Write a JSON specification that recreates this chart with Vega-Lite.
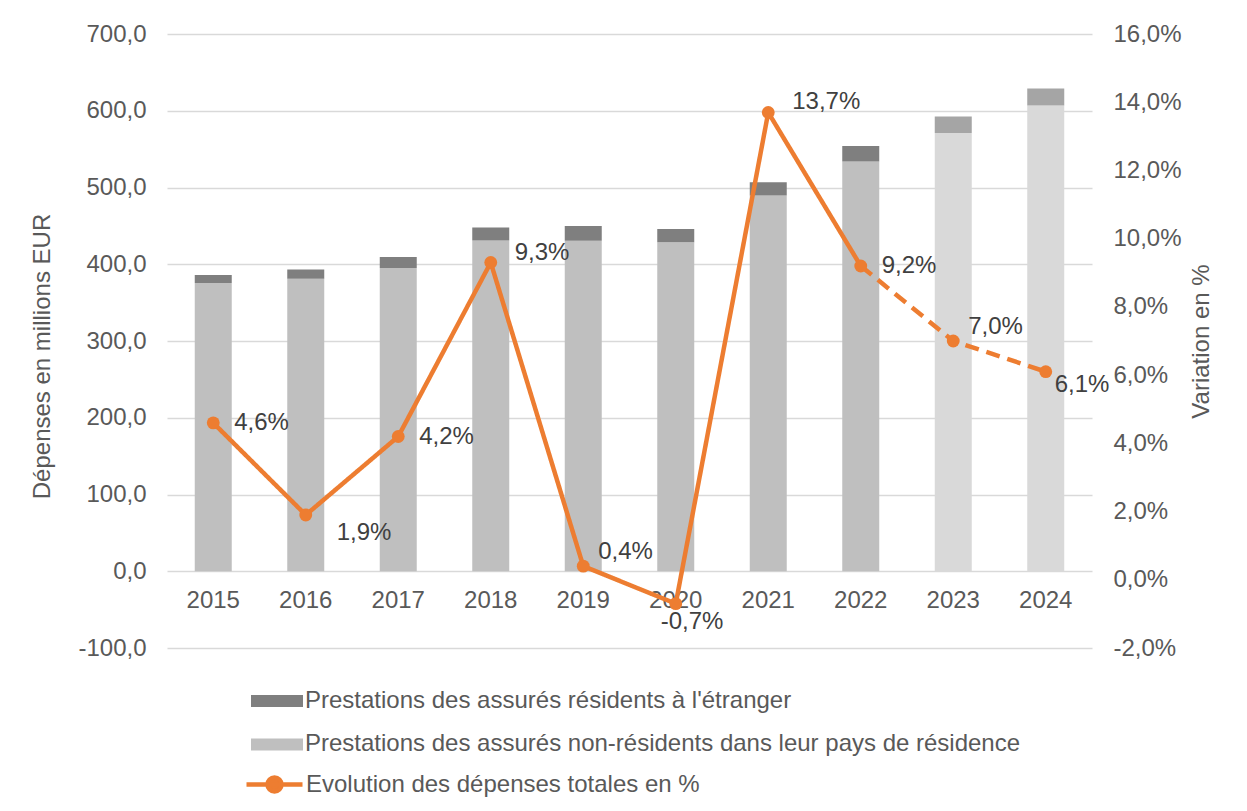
{
  "$schema": "https://vega.github.io/schema/vega-lite/v6.json",
  "width": 925,
  "height": 614,
  "autosize": "none",
  "padding": {"left": 167, "top": 34, "right": 155, "bottom": 163},
  "background": "#ffffff",
  "config": {
    "font": "Liberation Sans",
    "view": {"stroke": null},
    "locale": {"number": {"decimal": ",", "thousands": ".", "grouping": [3], "currency": ["", " €"], "minus": "-"}},
    "axis": {"labelFontSize": 24, "labelColor": "#595959", "titleColor": "#595959", "titleFontSize": 24, "titleFontWeight": "normal", "domain": false, "ticks": false, "tickSize": 0},
    "legend": {"labelFontSize": 24, "labelColor": "#595959", "padding": 0, "title": null, "labelLimit": 900}
  },
  "datasets": {
    "depenses": [
      {"annee": 2015, "serie": "Prestations des assurés non-résidents dans leur pays de résidence", "statut": "observé", "montant": 375.5},
      {"annee": 2015, "serie": "Prestations des assurés résidents à l'étranger", "statut": "observé", "montant": 10.5},
      {"annee": 2016, "serie": "Prestations des assurés non-résidents dans leur pays de résidence", "statut": "observé", "montant": 381},
      {"annee": 2016, "serie": "Prestations des assurés résidents à l'étranger", "statut": "observé", "montant": 12},
      {"annee": 2017, "serie": "Prestations des assurés non-résidents dans leur pays de résidence", "statut": "observé", "montant": 395},
      {"annee": 2017, "serie": "Prestations des assurés résidents à l'étranger", "statut": "observé", "montant": 14.5},
      {"annee": 2018, "serie": "Prestations des assurés non-résidents dans leur pays de résidence", "statut": "observé", "montant": 431},
      {"annee": 2018, "serie": "Prestations des assurés résidents à l'étranger", "statut": "observé", "montant": 17},
      {"annee": 2019, "serie": "Prestations des assurés non-résidents dans leur pays de résidence", "statut": "observé", "montant": 430.5},
      {"annee": 2019, "serie": "Prestations des assurés résidents à l'étranger", "statut": "observé", "montant": 19.2},
      {"annee": 2020, "serie": "Prestations des assurés non-résidents dans leur pays de résidence", "statut": "observé", "montant": 428.8},
      {"annee": 2020, "serie": "Prestations des assurés résidents à l'étranger", "statut": "observé", "montant": 17},
      {"annee": 2021, "serie": "Prestations des assurés non-résidents dans leur pays de résidence", "statut": "observé", "montant": 489.7},
      {"annee": 2021, "serie": "Prestations des assurés résidents à l'étranger", "statut": "observé", "montant": 17.3},
      {"annee": 2022, "serie": "Prestations des assurés non-résidents dans leur pays de résidence", "statut": "observé", "montant": 534},
      {"annee": 2022, "serie": "Prestations des assurés résidents à l'étranger", "statut": "observé", "montant": 20},
      {"annee": 2023, "serie": "Prestations des assurés non-résidents dans leur pays de résidence", "statut": "projection", "montant": 571},
      {"annee": 2023, "serie": "Prestations des assurés résidents à l'étranger", "statut": "projection", "montant": 21.5},
      {"annee": 2024, "serie": "Prestations des assurés non-résidents dans leur pays de résidence", "statut": "projection", "montant": 607},
      {"annee": 2024, "serie": "Prestations des assurés résidents à l'étranger", "statut": "projection", "montant": 22}
    ],
    "variation": [
      {"annee": 2015, "taux": 0.046},
      {"annee": 2016, "taux": 0.019},
      {"annee": 2017, "taux": 0.042},
      {"annee": 2018, "taux": 0.093},
      {"annee": 2019, "taux": 0.004},
      {"annee": 2020, "taux": -0.007},
      {"annee": 2021, "taux": 0.137},
      {"annee": 2022, "taux": 0.092},
      {"annee": 2023, "taux": 0.070},
      {"annee": 2024, "taux": 0.061}
    ],
    "courbe": [
      {"annee": 2015, "taux": 0.046, "segment": "observé"},
      {"annee": 2016, "taux": 0.019, "segment": "observé"},
      {"annee": 2017, "taux": 0.042, "segment": "observé"},
      {"annee": 2018, "taux": 0.093, "segment": "observé"},
      {"annee": 2019, "taux": 0.004, "segment": "observé"},
      {"annee": 2020, "taux": -0.007, "segment": "observé"},
      {"annee": 2021, "taux": 0.137, "segment": "observé"},
      {"annee": 2022, "taux": 0.092, "segment": "observé"},
      {"annee": 2022, "taux": 0.092, "segment": "projection"},
      {"annee": 2023, "taux": 0.070, "segment": "projection"},
      {"annee": 2024, "taux": 0.061, "segment": "projection"}
    ]
  },
  "encoding": {
    "x": {
      "field": "annee",
      "type": "ordinal",
      "scale": {"paddingInner": 0.6, "paddingOuter": 0.3},
      "axis": {"title": null, "offset": -76.7, "labelPadding": 17, "labelAngle": 0, "grid": false}
    }
  },
  "layer": [
    {
      "data": {"name": "depenses"},
      "mark": {"type": "bar"},
      "encoding": {
        "y": {
          "field": "montant",
          "type": "quantitative",
          "stack": "zero",
          "scale": {"domain": [-100, 700], "nice": false, "zero": false},
          "axis": {
            "orient": "left",
            "values": [-100, 0, 100, 200, 300, 400, 500, 600, 700],
            "format": ".1f",
            "grid": true,
            "gridColor": "#d9d9d9",
            "gridWidth": 1.5,
            "labelPadding": 21,
            "title": "Dépenses en millions EUR",
            "titlePadding": 23,
            "titleY": 322
          }
        },
        "color": {
          "field": "serie",
          "type": "nominal",
          "scale": {
            "domain": ["Prestations des assurés résidents à l'étranger", "Prestations des assurés non-résidents dans leur pays de résidence"],
            "range": ["#7f7f7f", "#bfbfbf"]
          },
          "condition": [
            {"test": "datum.statut === 'projection' && indexof(datum.serie, 'étranger') >= 0", "value": "#a5a5a5"},
            {"test": "datum.statut === 'projection'", "value": "#d9d9d9"}
          ],
          "legend": {
            "orient": "none",
            "legendX": 98,
            "legendY": 655,
            "symbolType": "M-2.6,-0.6H2.6V0.6H-2.6Z",
            "symbolSize": 400,
            "symbolStrokeWidth": 0,
            "labelOffset": 16,
            "rowPadding": 19.4
          }
        },
        "order": {"field": "serie", "sort": "ascending"}
      }
    },
    {
      "encoding": {
        "y": {
          "field": "taux",
          "type": "quantitative",
          "scale": {"domain": [-0.02, 0.16], "nice": false, "zero": false},
          "axis": {
            "orient": "right",
            "values": [-0.02, 0, 0.02, 0.04, 0.06, 0.08, 0.10, 0.12, 0.14, 0.16],
            "format": ".1%",
            "grid": false,
            "labelPadding": 21,
            "title": "Variation en %",
            "titleAngle": 270,
            "titleBaseline": "top",
            "titlePadding": 8
          }
        }
      },
      "layer": [
        {
          "data": {"name": "courbe"},
          "mark": {"type": "line", "strokeWidth": 4.5, "strokeJoin": "round"},
          "encoding": {
            "stroke": {
              "datum": "Evolution des dépenses totales en %",
              "type": "nominal",
              "scale": {"range": ["#ED7D31"]},
              "legend": {
                "orient": "none",
                "legendX": 95,
                "legendY": 738,
                "symbolType": "M-2.8,0H2.8M0.7,0A0.7,0.7 0 1,1 -0.7,0A0.7,0.7 0 1,1 0.7,0Z",
                "symbolSize": 400,
                "symbolStrokeWidth": 4.5,
                "symbolFillColor": "#ED7D31",
                "symbolStrokeColor": "#ED7D31",
                "labelOffset": 19
              }
            },
            "strokeDash": {
              "field": "segment",
              "type": "nominal",
              "scale": {"domain": ["observé", "projection"], "range": [[1, 0], [14, 8]]},
              "legend": null
            }
          }
        },
        {
          "data": {"name": "variation"},
          "mark": {"type": "point", "filled": true, "size": 165, "opacity": 1, "color": "#ED7D31"}
        },
        {
          "data": {"name": "variation"},
          "transform": [{"filter": {"field": "annee", "oneOf": [2015, 2017, 2022]}}],
          "mark": {"type": "text", "align": "left", "baseline": "middle", "dx": 21, "dy": 0, "fontSize": 24, "color": "#404040"},
          "encoding": {"text": {"field": "taux", "type": "quantitative", "format": ".1%"}}
        },
        {
          "data": {"name": "variation"},
          "transform": [{"filter": {"field": "annee", "oneOf": [2018, 2021]}}],
          "mark": {"type": "text", "align": "left", "baseline": "middle", "dx": 24, "dy": -10, "fontSize": 24, "color": "#404040"},
          "encoding": {"text": {"field": "taux", "type": "quantitative", "format": ".1%"}}
        },
        {
          "data": {"name": "variation"},
          "transform": [{"filter": {"field": "annee", "oneOf": [2019, 2023]}}],
          "mark": {"type": "text", "align": "left", "baseline": "middle", "dx": 15, "dy": -14, "fontSize": 24, "color": "#404040"},
          "encoding": {"text": {"field": "taux", "type": "quantitative", "format": ".1%"}}
        },
        {
          "data": {"name": "variation"},
          "transform": [{"filter": {"field": "annee", "equal": 2016}}],
          "mark": {"type": "text", "align": "left", "baseline": "middle", "dx": 31, "dy": 18, "fontSize": 24, "color": "#404040"},
          "encoding": {"text": {"field": "taux", "type": "quantitative", "format": ".1%"}}
        },
        {
          "data": {"name": "variation"},
          "transform": [{"filter": {"field": "annee", "equal": 2024}}],
          "mark": {"type": "text", "align": "left", "baseline": "middle", "dx": 9, "dy": 13, "fontSize": 24, "color": "#404040"},
          "encoding": {"text": {"field": "taux", "type": "quantitative", "format": ".1%"}}
        },
        {
          "data": {"name": "variation"},
          "transform": [{"filter": {"field": "annee", "equal": 2020}}],
          "mark": {"type": "text", "align": "left", "baseline": "middle", "dx": -15, "dy": 18, "fontSize": 24, "color": "#404040"},
          "encoding": {"text": {"field": "taux", "type": "quantitative", "format": ".1%"}}
        }
      ]
    }
  ],
  "resolve": {"scale": {"y": "independent"}}
}
